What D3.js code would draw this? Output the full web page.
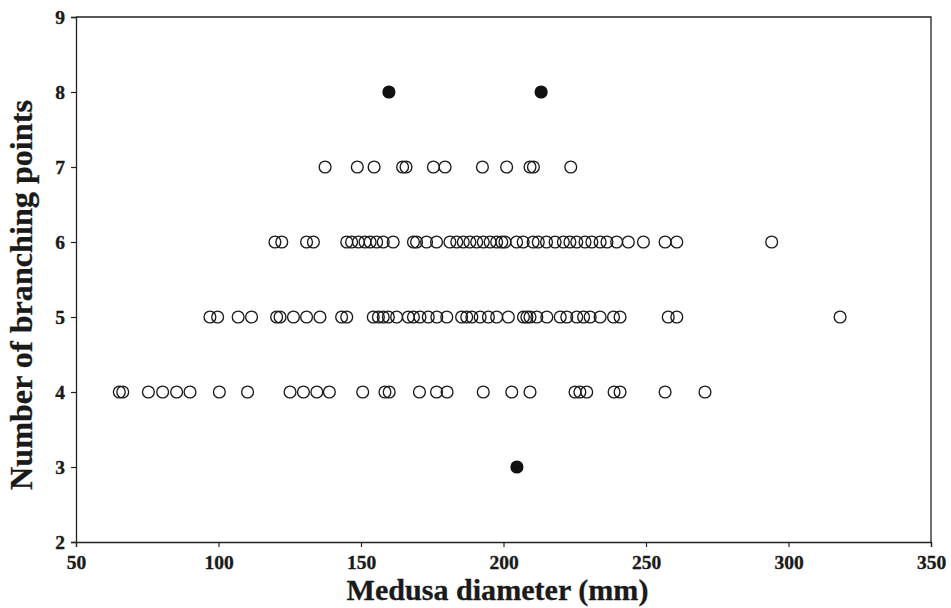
<!DOCTYPE html>
<html>
<head>
<meta charset="utf-8">
<script src="https://cdn.jsdelivr.net/npm/d3@7"></script>
<style>
  html, body { margin: 0; padding: 0; background: #fff; }
  svg { display: block; }
  text { font-family: "Liberation Serif", "DejaVu Serif", serif; font-weight: bold; fill: #1a1a1a; }
</style>
</head>
<body>
<svg id="chart" width="951" height="608"></svg>
<script>
// ---- data (medusa diameter in mm, grouped by number of branching points) ----
const openBranch3 = [];
const openBranch4 = [65.2, 66.4, 75.4, 80.4, 85.3, 90.0, 100.3, 110.2, 125.1, 129.8, 134.5, 138.9, 150.6, 158.4, 159.9, 170.5, 176.5, 180.2, 192.9, 202.9, 209.3, 225.1, 226.8, 229.2, 238.8, 240.9, 256.7, 270.7];
const openBranch5 = [97.0, 99.7, 106.9, 111.6, 120.4, 121.6, 126.3, 130.9, 135.6, 143.2, 145.0, 154.3, 156.1, 157.8, 159.6, 162.5, 166.6, 168.4, 170.7, 173.6, 176.6, 180.1, 185.3, 187.1, 188.9, 191.8, 194.7, 197.6, 201.7, 207.0, 208.2, 209.3, 211.7, 215.2, 219.9, 222.2, 225.7, 228.1, 230.4, 233.9, 238.6, 240.9, 257.8, 260.8, 318.1];
const openBranch6 = [119.8, 122.2, 130.9, 133.3, 145.0, 146.7, 149.1, 151.4, 153.2, 155.5, 157.8, 161.3, 168.4, 169.5, 173.0, 176.5, 181.2, 183.6, 185.9, 188.2, 190.6, 192.9, 195.3, 197.6, 199.4, 200.5, 204.6, 206.9, 210.4, 212.2, 215.1, 218.1, 221.0, 223.3, 225.7, 228.6, 231.0, 233.9, 236.3, 239.7, 243.8, 249.1, 256.7, 260.8, 294.1];
const openBranch7 = [137.4, 148.7, 154.6, 164.6, 165.8, 175.4, 179.5, 192.6, 201.1, 209.3, 210.5, 223.6];
const filledBranch3 = [204.7];
const filledBranch8 = [159.8, 213.2];

const xTicks = [50, 100, 150, 200, 250, 300, 350];
const yTicks = [2, 3, 4, 5, 6, 7, 8, 9];
const xTitle = "Medusa diameter (mm)";
const yTitle = "Number of branching points";

// ---- build point lists ----
const openPts = [];
[[3, openBranch3], [4, openBranch4], [5, openBranch5], [6, openBranch6], [7, openBranch7]]
  .forEach(([b, arr]) => arr.forEach(d => openPts.push({ d, b })));
const filledPts = [];
[[3, filledBranch3], [8, filledBranch8]]
  .forEach(([b, arr]) => arr.forEach(d => filledPts.push({ d, b })));

// ---- layout ----
const svg = d3.select("#chart");
const x = d3.scaleLinear().domain([50, 350]).range([76, 931]);
const y = d3.scaleLinear().domain([2, 9]).range([542, 17]);

const axisColor = "#222";

// frame (top and right)
svg.append("path")
  .attr("d", `M${x(50)},${y(9)}H${x(350)}V${y(2)}`)
  .attr("fill", "none").attr("stroke", axisColor).attr("stroke-width", 1.3);

// x axis
const gx = svg.append("g")
  .attr("transform", `translate(0,${y(2)})`)
  .call(d3.axisBottom(x).tickValues(xTicks).tickSize(5).tickPadding(8).tickFormat(d3.format("d")));
// y axis
const gy = svg.append("g")
  .attr("transform", `translate(${x(50)},0)`)
  .call(d3.axisLeft(y).tickValues(yTicks).tickSize(5).tickPadding(6).tickFormat(d3.format("d")));

[gx, gy].forEach(g => {
  g.attr("font-size", null).attr("font-family", null);
  g.select(".domain").attr("stroke", axisColor).attr("stroke-width", 1.3);
  g.selectAll(".tick line").attr("stroke", axisColor).attr("stroke-width", 1.2);
  g.selectAll(".tick text")
    .style("font-family", "'Liberation Serif', serif")
    .style("font-weight", "bold")
    .style("font-size", "19.5px")
    .attr("fill", "#1a1a1a")
    .attr("stroke", "#1a1a1a")
    .attr("stroke-width", 0.35);
});
gy.selectAll(".tick text").attr("dy", "0.34em");

// open circles
svg.append("g").selectAll("circle")
  .data(openPts).join("circle")
  .attr("cx", p => x(p.d))
  .attr("cy", p => y(p.b))
  .attr("r", 5.9)
  .attr("fill", "none")
  .attr("stroke", "#1a1a1a")
  .attr("stroke-width", 1.35);

// filled circles
svg.append("g").selectAll("circle")
  .data(filledPts).join("circle")
  .attr("cx", p => x(p.d))
  .attr("cy", p => y(p.b))
  .attr("r", 6.6)
  .attr("fill", "#111")
  .attr("stroke", "none");

// axis titles, sized to match reference widths
function fitText(sel, target) {
  let fs = 26;
  sel.style("font-size", fs + "px");
  const w = sel.node().getComputedTextLength();
  if (w > 0) sel.style("font-size", (fs * target / w) + "px");
}
const xt = svg.append("text")
  .attr("x", 497.5).attr("y", 600)
  .attr("text-anchor", "middle")
  .attr("stroke", "#1a1a1a").attr("stroke-width", 0.3)
  .text(xTitle);
fitText(xt, 302);

const yt = svg.append("text")
  .attr("transform", "translate(32,295) rotate(-90)")
  .attr("text-anchor", "middle")
  .attr("stroke", "#1a1a1a").attr("stroke-width", 0.3)
  .text(yTitle);
fitText(yt, 390);
</script>
</body>
</html>
